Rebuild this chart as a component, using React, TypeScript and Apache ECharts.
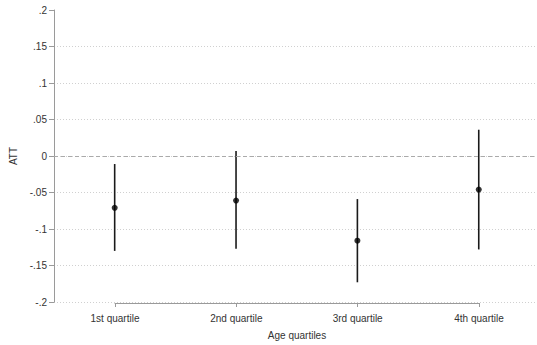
import React, { useEffect, useRef } from "react";
import * as echarts from "echarts";

const categories = ["1st quartile", "2nd quartile", "3rd quartile", "4th quartile"];
const att = [-0.071, -0.061, -0.116, -0.046];
const lower = [-0.130, -0.127, -0.173, -0.128];
const upper = [-0.011, 0.007, -0.059, 0.036];

const fmtY = (v: number) => {
  const r = Math.round(v * 100) / 100;
  if (r === 0) return "0";
  const s = String(r);
  return s.replace("0.", ".");
};

export default function App() {
  const ref = useRef<HTMLDivElement>(null);
  useEffect(() => {
    if (!ref.current) return;
    const chart = echarts.init(ref.current, null, { renderer: "svg" });
    const font = "Liberation Sans, Arial, sans-serif";
    const axisGray = "#9a9a9a";
    const textColor = "#333333";
    chart.setOption({
      animation: false,
      backgroundColor: "#ffffff",
      grid: [
        { left: 54, right: 0, top: 10, bottom: 43 },
        { left: 115, right: 58, top: 10, bottom: 33 },
      ],
      xAxis: [
        {
          type: "value",
          gridIndex: 0,
          min: 0.5,
          max: 4.48,
          show: false,
        },
        {
          type: "value",
          gridIndex: 1,
          min: 1,
          max: 4,
          interval: 1,
          position: "bottom",
          axisLine: { show: true, onZero: false, lineStyle: { color: axisGray, width: 1 } },
          axisTick: { show: true, length: 4, lineStyle: { color: axisGray } },
          splitLine: { show: false },
          axisLabel: {
            color: textColor,
            fontFamily: font,
            fontSize: 10,
            margin: 10,
            formatter: (v: number) => categories[Math.round(v) - 1] ?? "",
          },
          name: "Age quartiles",
          nameLocation: "middle",
          nameGap: 27,
          nameTextStyle: { color: textColor, fontFamily: font, fontSize: 10 },
        },
      ],
      yAxis: [
        {
          type: "value",
          gridIndex: 0,
          min: -0.2,
          max: 0.2,
          interval: 0.05,
          axisLine: { show: true, lineStyle: { color: axisGray, width: 1 } },
          axisTick: { show: true, length: 5, lineStyle: { color: axisGray } },
          axisLabel: {
            color: textColor,
            fontFamily: font,
            fontSize: 10,
            margin: 7,
            formatter: fmtY,
          },
          splitLine: {
            show: true,
            showMaxLine: false,
            lineStyle: { color: "#d0d0d0", type: [1, 2], width: 1 },
          },
          name: "ATT",
          nameLocation: "middle",
          nameRotate: 90,
          nameGap: 36,
          nameTextStyle: { color: textColor, fontFamily: font, fontSize: 10 },
        },
        {
          type: "value",
          gridIndex: 1,
          min: -0.2,
          max: 0.2,
          show: false,
        },
      ],
      series: [
        {
          type: "custom",
          xAxisIndex: 0,
          yAxisIndex: 0,
          data: categories.map((_, i) => [i + 1, lower[i], upper[i]]),
          renderItem: (params: any, api: any) => {
            const x = api.value(0);
            const p1 = api.coord([x, api.value(1)]);
            const p2 = api.coord([x, api.value(2)]);
            return {
              type: "line",
              shape: { x1: p1[0], y1: p1[1], x2: p2[0], y2: p2[1] },
              style: { stroke: "#1a1a1a", lineWidth: 1.6 },
            };
          },
          markLine: {
            silent: true,
            symbol: "none",
            label: { show: false },
            lineStyle: { color: "#aaaaaa", type: [4, 3], width: 1 },
            data: [{ yAxis: 0 }],
          },
          z: 3,
        },
        {
          type: "scatter",
          xAxisIndex: 0,
          yAxisIndex: 0,
          data: categories.map((_, i) => [i + 1, att[i]]),
          symbol: "circle",
          symbolSize: 6,
          itemStyle: { color: "#000000" },
          z: 4,
        },
      ],
    });
    return () => chart.dispose();
  }, []);
  return <div ref={ref} style={{ width: 537, height: 345, position: "absolute", left: 0, top: 0 }} />;
}
